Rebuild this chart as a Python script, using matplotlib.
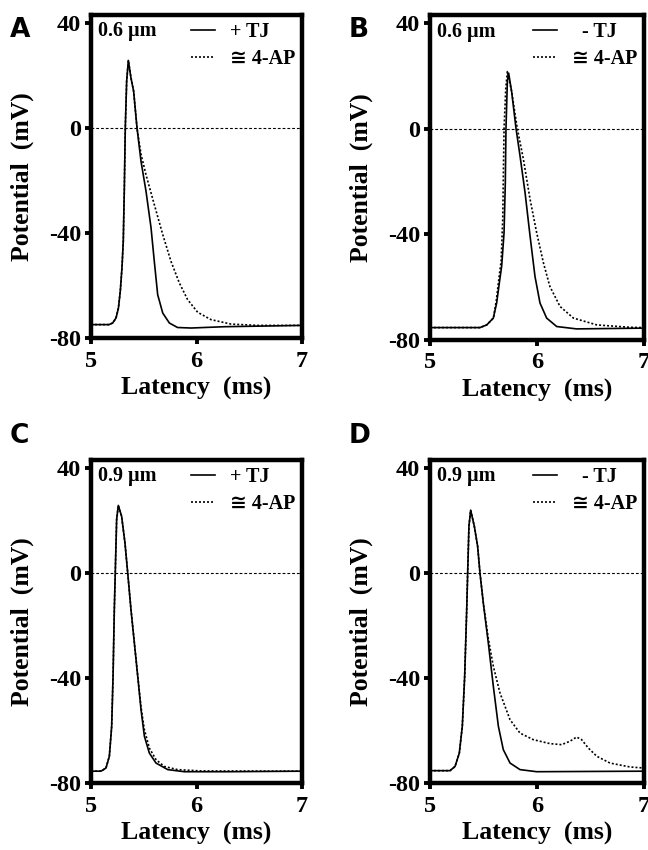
import matplotlib
matplotlib.use("Agg")
import matplotlib.pyplot as plt

# panel A: 0.6 um, + TJ (solid) and 4-AP (dotted)
a_t_tj = [5.0, 5.17, 5.205, 5.237, 5.26, 5.278, 5.294, 5.306, 5.316, 5.325, 5.338, 5.354, 5.379, 5.404, 5.436, 5.474, 5.521, 5.569, 5.6, 5.632, 5.68, 5.743, 5.82, 5.948, 6.264, 7.0]
a_v_tj = [-74.9, -74.9, -74.3, -72.4, -68.6, -62, -53, -43, -22.9, 0, 17.8, 25.7, 19, 14, 0, -12.7, -24, -38, -50.8, -63.5, -70.5, -74.3, -76, -76.2, -75.7, -75.2]
a_t_ap = [5.0, 5.17, 5.205, 5.237, 5.26, 5.278, 5.294, 5.306, 5.316, 5.325, 5.338, 5.354, 5.379, 5.404, 5.436, 5.474, 5.521, 5.6, 5.68, 5.758, 5.837, 5.916, 6.011, 6.137, 6.327, 6.58, 7.0]
a_v_ap = [-74.9, -74.9, -74.3, -72.4, -68.6, -62, -53, -43, -22.9, 0, 17.8, 25.7, 19, 14, 0, -10, -17.8, -29.2, -40.6, -50.8, -59, -65.4, -70.2, -73, -74.7, -75.2, -75.2]

# panel B: 0.6 um, - TJ
b_t_tj = [5.0, 5.467, 5.53, 5.592, 5.623, 5.648, 5.67, 5.692, 5.704, 5.71, 5.723, 5.735, 5.763, 5.804, 5.841, 5.888, 5.935, 5.981, 6.028, 6.09, 6.184, 6.37, 7.0]
b_v_tj = [-75.3, -75.3, -74.3, -71.7, -66, -58.4, -52, -39.4, -20.3, 0, 17.8, 21, 14, 0, -10.2, -24.1, -40.6, -55.9, -66, -71.7, -74.9, -75.8, -75.5]
b_t_ap = [5.0, 5.467, 5.53, 5.592, 5.62, 5.643, 5.665, 5.68, 5.692, 5.708, 5.723, 5.763, 5.816, 5.872, 5.935, 5.997, 6.06, 6.12, 6.215, 6.34, 6.56, 6.87, 7.0]
b_v_ap = [-75.3, -75.3, -74.3, -71.7, -65, -57, -50, -34, 0, 15, 21.6, 14, 0, -11.4, -26.7, -39.4, -50.8, -59.7, -67.3, -71.7, -74.3, -75.2, -75.3]

# panel C: 0.9 um, + TJ
c_t_tj = [5.0, 5.095, 5.142, 5.174, 5.196, 5.209, 5.221, 5.23, 5.243, 5.259, 5.29, 5.322, 5.348, 5.379, 5.427, 5.474, 5.506, 5.553, 5.616, 5.727, 5.885, 6.3, 7.0]
c_v_tj = [-75.5, -75.5, -74.3, -69.8, -58.4, -39.4, -14, 0, 20.3, 25.7, 21.6, 11.4, 0, -14, -33, -52, -62.2, -68.6, -72.4, -74.9, -75.7, -75.7, -75.5]
c_t_ap = [5.0, 5.095, 5.142, 5.174, 5.196, 5.209, 5.221, 5.23, 5.243, 5.259, 5.29, 5.322, 5.348, 5.379, 5.427, 5.474, 5.506, 5.553, 5.616, 5.695, 5.82, 6.04, 7.0]
c_v_ap = [-75.5, -75.5, -74.3, -69.8, -58.4, -39.4, -14, 0, 20.3, 25.7, 21.6, 11.4, 0, -14, -33, -51, -59.7, -66.7, -71.1, -73.7, -74.9, -75.4, -75.5]

# panel D: 0.9 um, - TJ
d_t_tj = [5.0, 5.187, 5.234, 5.274, 5.302, 5.324, 5.343, 5.352, 5.364, 5.38, 5.414, 5.445, 5.467, 5.498, 5.545, 5.592, 5.639, 5.685, 5.748, 5.841, 5.997, 7.0]
d_v_tj = [-75.3, -75.3, -73.7, -68.6, -58.4, -39.4, -14, 0, 17.8, 23.9, 17.8, 10.2, 0, -11.4, -26.7, -43.2, -58.4, -67.3, -72.4, -74.9, -75.7, -75.5]
d_t_ap = [5.0, 5.187, 5.234, 5.274, 5.302, 5.324, 5.343, 5.352, 5.364, 5.38, 5.414, 5.445, 5.467, 5.498, 5.545, 5.592, 5.654, 5.748, 5.841, 5.966, 6.12, 6.23, 6.308, 6.37, 6.417, 6.48, 6.558, 6.682, 6.87, 7.0]
d_v_ap = [-75.3, -75.3, -73.7, -68.6, -58.4, -39.4, -14, 0, 17.8, 23.9, 17.8, 10.2, 0, -11.4, -25, -35.6, -45.7, -55.9, -61, -63.5, -65, -65.4, -64.1, -62.5, -63.5, -66.7, -69.8, -72.4, -73.9, -74.3]

letters = ["A", "B", "C", "D"]
sizes = ["0.6 \u00b5m", "0.6 \u00b5m", "0.9 \u00b5m", "0.9 \u00b5m"]
tj_labels = ["+ TJ", "  - TJ", "+ TJ", "  - TJ"]
ap_label = "\u2245 4-AP"

panels = [(a_t_tj, a_v_tj, a_t_ap, a_v_ap), (b_t_tj, b_v_tj, b_t_ap, b_v_ap),
          (c_t_tj, c_v_tj, c_t_ap, c_v_ap), (d_t_tj, d_v_tj, d_t_ap, d_v_ap)]

plt.rcParams['font.family'] = ['Liberation Serif', 'DejaVu Sans']
plt.rcParams['font.weight'] = 'bold'
plt.rcParams['axes.unicode_minus'] = False

fig = plt.figure(figsize=(6.48, 8.5), dpi=100)
W, H = 648.0, 850.0
# axes boxes in pixels: left, top, right, bottom
boxes = [(91, 15, 302, 338), (430, 15, 644, 340), (91, 460, 302, 783), (430, 460, 644, 783)]
letter_pos = [(10, 37), (349, 37), (10, 443), (349, 443)]

for i, (t1, v1, t2, v2) in enumerate(panels):
    l, t, r, b = boxes[i]
    ax = fig.add_axes([l / W, (H - b) / H, (r - l) / W, (b - t) / H])
    ax.axhline(0, color='black', lw=0.8, ls=(0, (2.5, 1.8)))
    ax.plot(t1, v1, color='black', lw=1.2, label=tj_labels[i])
    ax.plot(t2, v2, color='black', lw=1.2, ls=(0, (1.2, 1.2)), label=ap_label)
    ax.set_xlim(5, 7)
    ax.set_ylim(-80, 43)
    ax.set_xticks([5, 6, 7])
    ax.set_yticks([-80, -40, 0, 40])
    for s in ax.spines.values():
        s.set_linewidth(3.2)
    ax.tick_params(direction='out', length=4, width=2.8, labelsize=17.5)
    ax.tick_params(axis='y', pad=3)
    ax.tick_params(axis='x', pad=5)
    for lab in ax.get_xticklabels() + ax.get_yticklabels():
        lab.set_fontweight('bold')
    ax.set_xlabel('Latency  (ms)', fontsize=18.5, fontweight='bold', labelpad=4)
    ax.set_ylabel('Potential  (mV)', fontsize=18.5, fontweight='bold')
    ax.yaxis.set_label_coords(-57.0 / (r - l), 0.5)
    ax.text(0.035, 0.98, sizes[i], transform=ax.transAxes, fontsize=14.5,
            fontweight='bold', va='top', ha='left')
    ax.legend(loc='upper right', frameon=False, handlelength=1.2,
              handletextpad=0.7, borderaxespad=0.15, borderpad=0.2, labelspacing=0.35,
              prop={'weight': 'bold', 'size': 14.5})
    fig.text(letter_pos[i][0] / W, 1 - letter_pos[i][1] / H, letters[i],
             family='DejaVu Sans', fontsize=19, fontweight='bold', va='baseline')

fig.savefig('out.png', dpi=100)
